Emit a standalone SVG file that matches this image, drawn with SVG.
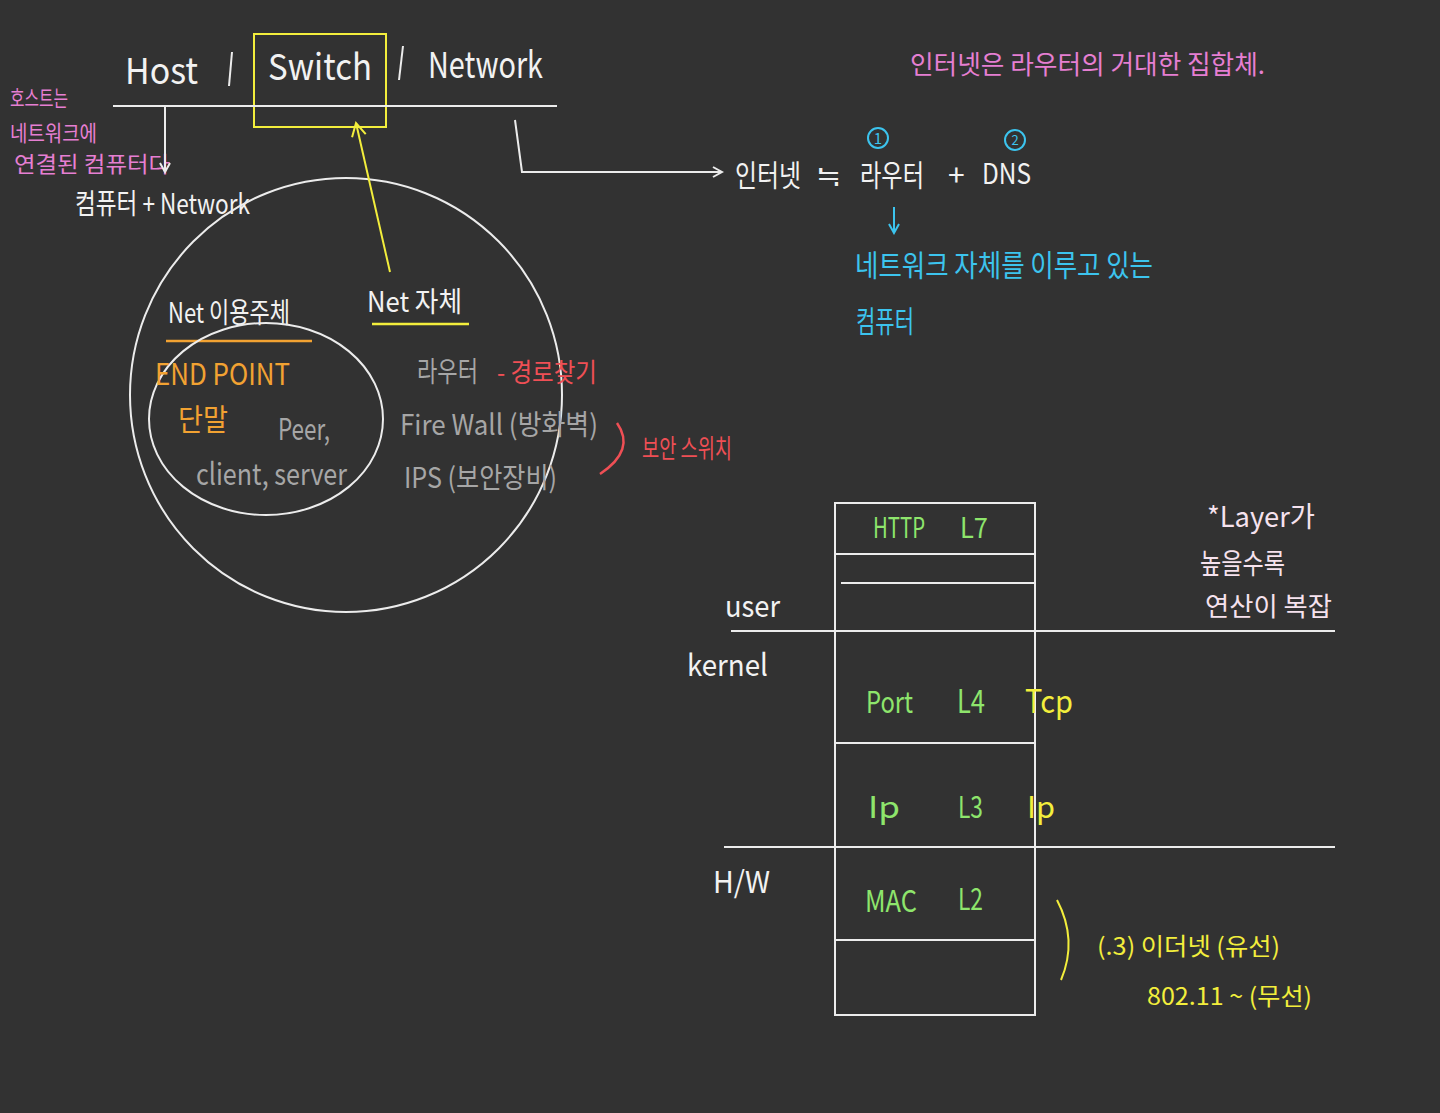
<svg xmlns="http://www.w3.org/2000/svg" width="1440" height="1113" viewBox="0 0 1440 1113">
<defs>
<style>
text{font-family:"Noto Sans CJK KR","Liberation Sans",sans-serif;}
.w{fill:#f2f2f2}
.pk{fill:#e67fd2}
.cy{fill:#3cc4ee}
.or{fill:#f2a232}
.ye{fill:#f3ee3c}
.gn{fill:#8ee56c}
.rd{fill:#ef4f55}
.gy{fill:#a6a6a6}
.lp{fill:#f6e2ee}
.ln{stroke:#ececec;stroke-width:2;fill:none}
</style>
<marker id="aw" markerWidth="12" markerHeight="12" refX="10" refY="6" orient="auto" markerUnits="userSpaceOnUse"><path d="M1,1 L10,6 L1,11" fill="none" stroke="#ececec" stroke-width="2"/></marker>
<marker id="ay" markerWidth="16" markerHeight="16" refX="14" refY="8" orient="auto" markerUnits="userSpaceOnUse"><path d="M1,1 L14,8 L1,15" fill="none" stroke="#f3ee3c" stroke-width="2"/></marker>
<marker id="ac" markerWidth="12" markerHeight="12" refX="10" refY="6" orient="auto" markerUnits="userSpaceOnUse"><path d="M1,1 L10,6 L1,11" fill="none" stroke="#3cc4ee" stroke-width="2"/></marker>
</defs>
<rect width="1440" height="1113" fill="#323232"/>

<g id="header">
<text x="125" y="84" font-size="36" class="w" textLength="73" lengthAdjust="spacingAndGlyphs">Host</text>
<path d="M232,52 L229,86" class="ln"/>
<rect x="254" y="34" width="132" height="93" fill="none" stroke="#f3ee3c" stroke-width="2"/>
<text x="268" y="80" font-size="36" class="w" textLength="104" lengthAdjust="spacingAndGlyphs">Switch</text>
<path d="M403,46 L399,80" class="ln"/>
<text x="428" y="78" font-size="36" class="w" textLength="115" lengthAdjust="spacingAndGlyphs">Network</text>
</g>

<g id="host-note">
<text x="10" y="106" font-size="22" class="pk" textLength="58" lengthAdjust="spacingAndGlyphs">호스트는</text>
<text x="10" y="141" font-size="22" class="pk" textLength="87" lengthAdjust="spacingAndGlyphs">네트워크에</text>
<text x="14" y="172" font-size="22" class="pk" textLength="156" lengthAdjust="spacingAndGlyphs">연결된 컴퓨터다</text>
<text x="75" y="214" font-size="28" class="w" textLength="175" lengthAdjust="spacingAndGlyphs">컴퓨터 + Network</text>
</g>

<g id="internet">
<text x="910" y="74" font-size="26" class="pk" textLength="355" lengthAdjust="spacingAndGlyphs">인터넷은 라우터의 거대한 집합체.</text>
<text x="735" y="186" font-size="30" class="w" textLength="66" lengthAdjust="spacingAndGlyphs">인터넷</text>
<text x="816" y="186" font-size="30" class="w">≒</text>
<text x="860" y="186" font-size="30" class="w" textLength="64" lengthAdjust="spacingAndGlyphs">라우터</text>
<text x="948" y="186" font-size="30" class="w">+</text>
<text x="982" y="184" font-size="28" class="w" textLength="49" lengthAdjust="spacingAndGlyphs">DNS</text>
<circle cx="878" cy="138" r="10" fill="none" stroke="#3cc4ee" stroke-width="2"/>
<text x="878" y="144" font-size="15" class="cy" text-anchor="middle">1</text>
<circle cx="1015" cy="140" r="10" fill="none" stroke="#3cc4ee" stroke-width="2"/>
<text x="1015" y="145" font-size="13" class="cy" text-anchor="middle">2</text>
<text x="855" y="276" font-size="30" class="cy" textLength="298" lengthAdjust="spacingAndGlyphs">네트워크 자체를 이루고 있는</text>
<text x="856" y="332" font-size="30" class="cy" textLength="58" lengthAdjust="spacingAndGlyphs">컴퓨터</text>
</g>

<g id="circle-outer">
<ellipse cx="346" cy="395" rx="216" ry="217" class="ln"/>
<text x="168" y="323" font-size="28" class="w" textLength="122" lengthAdjust="spacingAndGlyphs">Net 이용주체</text>
<path d="M166,341 L312,341" stroke="#f2a232" stroke-width="2.5"/>
<text x="367" y="312" font-size="28" class="w" textLength="95" lengthAdjust="spacingAndGlyphs">Net 자체</text>
<path d="M372,324 L469,324" stroke="#f3ee3c" stroke-width="2.5"/>
<text x="417" y="382" font-size="28" class="gy" textLength="61" lengthAdjust="spacingAndGlyphs">라우터</text>
<text x="497" y="382" font-size="26" class="rd" textLength="100" lengthAdjust="spacingAndGlyphs">- 경로찾기</text>
<text x="400" y="435" font-size="28" class="gy" textLength="198" lengthAdjust="spacingAndGlyphs">Fire Wall (방화벽)</text>
<text x="404" y="488" font-size="28" class="gy" textLength="153" lengthAdjust="spacingAndGlyphs">IPS (보안장비)</text>
</g>

<g id="circle-inner">
<ellipse cx="266" cy="419" rx="117" ry="96" class="ln"/>
<text x="155" y="385" font-size="30" class="or" textLength="135" lengthAdjust="spacingAndGlyphs">END POINT</text>
<text x="178" y="430" font-size="30" class="or" textLength="50" lengthAdjust="spacingAndGlyphs">단말</text>
<text x="278" y="440" font-size="30" class="gy" textLength="52" lengthAdjust="spacingAndGlyphs">Peer,</text>
<text x="196" y="485" font-size="30" class="gy" textLength="151" lengthAdjust="spacingAndGlyphs">client, server</text>
</g>

<g id="security-switch">
<path d="M617,423 Q636,450 600,474" stroke="#ef4f55" stroke-width="2.5" fill="none"/>
<text x="642" y="458" font-size="26" class="rd" textLength="90" lengthAdjust="spacingAndGlyphs">보안 스위치</text>
</g>

<g id="layer-stack">
<rect x="835" y="503" width="200" height="512" class="ln"/>
<path d="M835,554 L1035,554 M841,583 L1035,583 M835,743 L1036,743 M835,940 L1035,940" class="ln"/>
<text x="873" y="538" font-size="28" class="gn" textLength="52" lengthAdjust="spacingAndGlyphs">HTTP</text>
<text x="960" y="538" font-size="28" class="gn" textLength="28" lengthAdjust="spacingAndGlyphs">L7</text>
<text x="866" y="713" font-size="30" class="gn" textLength="47" lengthAdjust="spacingAndGlyphs">Port</text>
<text x="957" y="713" font-size="32" class="gn" textLength="28" lengthAdjust="spacingAndGlyphs">L4</text>
<text x="1025" y="713" font-size="32" class="ye" textLength="48" lengthAdjust="spacingAndGlyphs">Tcp</text>
<text x="868" y="818" font-size="30" class="gn" textLength="32" lengthAdjust="spacingAndGlyphs">Ip</text>
<text x="958" y="818" font-size="30" class="gn" textLength="25" lengthAdjust="spacingAndGlyphs">L3</text>
<text x="1027" y="818" font-size="30" class="ye" textLength="28" lengthAdjust="spacingAndGlyphs">Ip</text>
<text x="865" y="912" font-size="30" class="gn" textLength="52" lengthAdjust="spacingAndGlyphs">MAC</text>
<text x="958" y="910" font-size="30" class="gn" textLength="25" lengthAdjust="spacingAndGlyphs">L2</text>
</g>

<g id="space-labels">
<text x="725" y="617" font-size="30" class="w" textLength="55" lengthAdjust="spacingAndGlyphs">user</text>
<text x="687" y="676" font-size="30" class="w" textLength="81" lengthAdjust="spacingAndGlyphs">kernel</text>
<text x="713" y="893" font-size="30" class="w" textLength="57" lengthAdjust="spacingAndGlyphs">H/W</text>
</g>

<g id="layer-note">
<text x="1207" y="527" font-size="28" class="lp" textLength="108" lengthAdjust="spacingAndGlyphs">*Layer가</text>
<text x="1200" y="574" font-size="28" class="lp" textLength="85" lengthAdjust="spacingAndGlyphs">높을수록</text>
<text x="1205" y="616" font-size="26" class="lp" textLength="127" lengthAdjust="spacingAndGlyphs">연산이 복잡</text>
</g>

<g id="physical-note">
<path d="M1057,900 Q1078,940 1061,980" stroke="#f3ee3c" stroke-width="2" fill="none"/>
<text x="1097" y="955" font-size="24" class="ye" textLength="183" lengthAdjust="spacingAndGlyphs">(.3) 이더넷 (유선)</text>
<text x="1147" y="1005" font-size="24" class="ye" textLength="165" lengthAdjust="spacingAndGlyphs">802.11 ~ (무선)</text>
</g>

<g id="connectors">
<path d="M113,106 L557,106" class="ln"/>
<path d="M165,106 L165,172" class="ln" marker-end="url(#aw)"/>
<path d="M515,120 L522,172 L722,172" class="ln" marker-end="url(#aw)"/>
<path d="M390,272 L356,123" stroke="#f3ee3c" stroke-width="2" fill="none" marker-end="url(#ay)"/>
<path d="M894,207 L894,233" stroke="#3cc4ee" stroke-width="2" fill="none" marker-end="url(#ac)"/>
<path d="M731,631 L1335,631 M724,847 L1335,847" class="ln"/>
</g>
</svg>
